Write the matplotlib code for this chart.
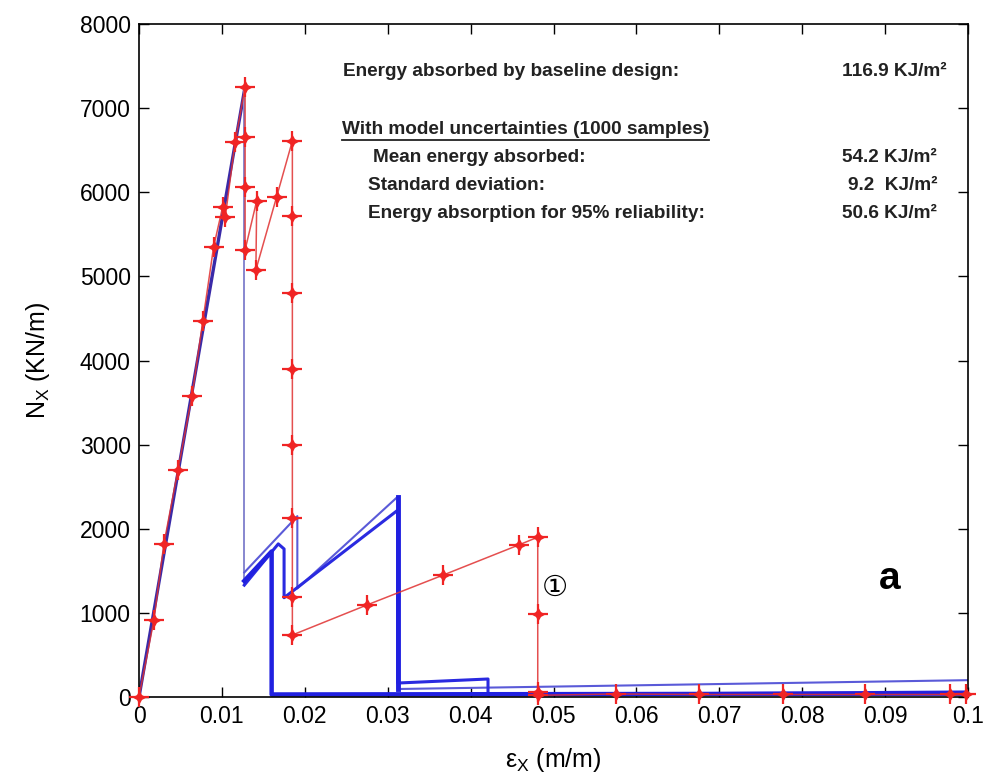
import matplotlib
matplotlib.use("Agg")
import matplotlib.pyplot as plt
from matplotlib.lines import Line2D

plt.rcParams['font.family'] = ['Liberation Sans', 'DejaVu Sans']
plt.rcParams['mathtext.fontset'] = 'custom'
plt.rcParams['mathtext.rm'] = 'Liberation Sans'
plt.rcParams['mathtext.it'] = 'Liberation Sans'

# Baseline design (red, with markers)
red_x = [0, 0.0018, 0.0030, 0.0047, 0.0064, 0.0077, 0.0090, 0.0101, 0.0104, 0.0116, 0.0128,
         0.0128, 0.0128, 0.0128, 0.0142, 0.0141, 0.0166, 0.0185,
         0.0185, 0.0185, 0.0185, 0.0185, 0.0185, 0.0185, 0.0185,
         0.0275, 0.0367, 0.0458, 0.0481, 0.0481, 0.0481, 0.0481,
         0.0575, 0.0676, 0.0777, 0.0876, 0.0978, 0.0998]
red_y = [0, 915, 1819, 2700, 3580, 4470, 5350, 5830, 5700, 6600, 7250,
         6660, 6065, 5315, 5900, 5077, 5945, 6610,
         5720, 4800, 3900, 2996, 2128, 1189, 737,
         1094, 1450, 1807, 1900, 990, 60, 20,
         36, 30, 30, 30, 30, 30]

# Model-uncertainty samples (blue)
b1_x = [0, 0.0127, 0.0127, 0.0191, 0.0191, 0.0312, 0.0312, 0.1]
b1_y = [0, 7200, 1480, 2150, 1290, 2380, 95, 200]
b2_x = [0, 0.0127, 0.0127, 0.0160, 0.0160, 0.1]
b2_y = [0, 7200, 1380, 1730, 30, 40]
b3_x = [0, 0.0127, 0.0127, 0.0168, 0.0175, 0.0175, 0.0312, 0.0312, 0.0421, 0.0421, 0.1]
b3_y = [0, 7200, 1330, 1820, 1760, 1180, 2220, 166, 214, 25, 60]

x_ticks = [0, 0.01, 0.02, 0.03, 0.04, 0.05, 0.06, 0.07, 0.08, 0.09, 0.1]
x_labels = ['0', '0.01', '0.02', '0.03', '0.04', '0.05', '0.06', '0.07', '0.08', '0.09', '0.1']
y_ticks = [0, 1000, 2000, 3000, 4000, 5000, 6000, 7000, 8000]

W, H = 986, 776
fig = plt.figure(figsize=(W / 100, H / 100), dpi=100)
ax = fig.add_axes([139 / W, 1 - 697 / H, (968 - 139) / W, (697 - 24) / H])

light = '#8a8ad0'
# loading branch (shared by all samples) and first drop
ax.plot(b2_x[:2], b2_y[:2], color='#3a2aa8', lw=2.4, zorder=2)
for bx, by in [(b1_x, b1_y), (b2_x, b2_y), (b3_x, b3_y)]:
    ax.plot(bx[1:3], by[1:3], color=light, lw=1.2, zorder=2)
# post-failure branches
ax.plot(b1_x[2:], b1_y[2:], color='#5a5ad8', lw=1.5, zorder=2)
ax.plot(b3_x[2:], b3_y[2:], color='#2a2ae0', lw=2.2, zorder=2)
ax.plot(b2_x[2:], b2_y[2:], color='#2020e0', lw=3.2, zorder=2)
ax.plot(b1_x[5:7], b1_y[5:7], color='#2020e0', lw=3.5, zorder=2)

ax.plot(red_x, red_y, color='#e03030', lw=1.1, alpha=0.85, zorder=3)
ax.plot(red_x, red_y, ls='none', marker='+', ms=15, mew=1.6,
        mec='#f02424', zorder=4, clip_on=False)
ax.plot(red_x, red_y, ls='none', marker=(4, 1, 0), ms=8,
        mfc='#f02424', mec='#f02424', zorder=4, clip_on=False)

ax.set_xlim(0, 0.1)
ax.set_ylim(0, 8000)
ax.set_xticks(x_ticks)
ax.set_xticklabels(x_labels)
ax.set_yticks(y_ticks)
ax.tick_params(direction='in', length=7, width=1, top=True, right=True,
               labelsize=16.5, pad=6)
for s in ax.spines.values():
    s.set_linewidth(1.2)

ax.set_xlabel(r'$\mathregular{\varepsilon_X}$ (m/m)', fontsize=18, labelpad=13)
ax.set_ylabel(r'N$_\mathregular{X}$ (KN/m)', fontsize=18, labelpad=20)

fs = 13.7
def ftext(px, py, s, ha='left', **kw):
    return fig.text(px / W, 1 - py / H, s, ha=ha, va='center', fontsize=fs,
                    fontweight='bold', color='#222222', **kw)

ftext(343, 71, 'Energy absorbed by baseline design:')
ftext(947, 71, '116.9 KJ/m²', ha='right')
t = ftext(342, 130, 'With model uncertainties (1000 samples)')
ftext(373, 157, 'Mean energy absorbed:')
ftext(937, 157, '54.2 KJ/m²', ha='right')
ftext(368, 185, 'Standard deviation:')
ftext(937, 185, '9.2  KJ/m²', ha='right')
ftext(368, 213, 'Energy absorption for 95% reliability:')
ftext(937, 213, '50.6 KJ/m²', ha='right')

ax.text(0.0905, 1400, 'a', fontsize=28, fontweight='bold', ha='center', va='center')
ax.text(0.0502, 1300, '①', fontsize=21, ha='center', va='center',
        family=['DejaVu Serif', 'DejaVu Sans', 'Noto Sans CJK SC'])

fig.canvas.draw()
bb = t.get_window_extent()
yline = bb.y0 - 1
fig.add_artist(Line2D([bb.x0 / W, bb.x1 / W], [yline / H, yline / H],
                      color='#222222', lw=1.3))

fig.savefig('out.png', dpi=100)
